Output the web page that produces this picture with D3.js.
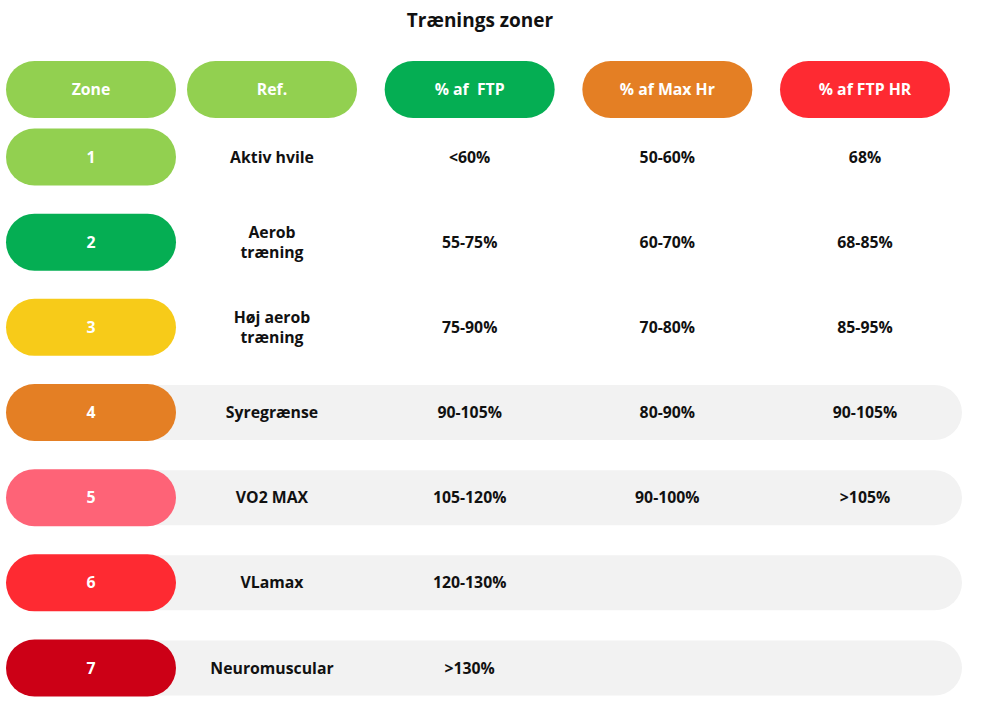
<!DOCTYPE html>
<html>
<head>
<meta charset="utf-8">
<script src="https://cdn.jsdelivr.net/npm/d3@7/dist/d3.min.js"></script>
<style>
  body { margin: 0; background: #fff; }
  svg text { font-family: "Open Sans", "Noto Sans", sans-serif; font-weight: 700; }
</style>
</head>
<body>
<svg id="chart"></svg>
<script>
// data
var title = "Trænings zoner";
var headers = ["Zone", "Ref.", "% af  FTP", "% af Max Hr", "% af FTP HR"];
var headerColors = ["#92d050", "#92d050", "#05ae53", "#e47f24", "#fe2a32"];
var zones = ["1", "2", "3", "4", "5", "6", "7"];
var zoneColors = ["#92d050", "#05ae53", "#f7cb19", "#e47f24", "#fe6377", "#fe2a32", "#cc0016"];
var refs = ["Aktiv hvile", "Aerob\ntræning", "Høj aerob\ntræning", "Syregrænse", "VO2 MAX", "VLamax", "Neuromuscular"];
var pctFtp = ["<60%", "55-75%", "75-90%", "90-105%", "105-120%", "120-130%", ">130%"];
var pctMaxHr = ["50-60%", "60-70%", "70-80%", "80-90%", "90-100%", "", ""];
var pctFtpHr = ["68%", "68-85%", "85-95%", "90-105%", ">105%", "", ""];
var shaded = [false, false, false, true, true, true, true];

var W = 987, H = 721;
var svg = d3.select("#chart").attr("width", W).attr("height", H);

var pillW = 170, pillH = 57;
var fs = 15.8;

// columns Ref..FTP HR share a regular spacing, zone column sits left of them
var xCol = d3.scalePoint().domain(headers.slice(1)).range([272, 865]);
var zoneX = xCol("Ref.") - 181;
var colX = function(i) { return i === 0 ? zoneX : xCol(headers[i]); };

var yRow = d3.scalePoint().domain(zones).range([157, 668]);
var headerY = 89.5;

svg.append("text")
  .attr("x", 480).attr("y", 27)
  .attr("text-anchor", "middle")
  .attr("font-size", 19)
  .attr("fill", "#111")
  .text(title);

// header pills
var hd = svg.append("g").selectAll("g")
  .data(headers)
  .enter().append("g");
hd.append("rect")
  .attr("x", function(d, i) { return colX(i) - pillW / 2; })
  .attr("y", headerY - pillH / 2)
  .attr("width", pillW).attr("height", pillH)
  .attr("rx", pillH / 2)
  .attr("fill", function(d, i) { return headerColors[i]; });
hd.append("text")
  .attr("x", function(d, i) { return colX(i); })
  .attr("y", headerY)
  .attr("dy", "0.35em")
  .attr("text-anchor", "middle")
  .attr("font-size", fs)
  .attr("fill", "#fff")
  .style("white-space", "pre")
  .text(function(d) { return d; });

// rows
var rows = zones.map(function(z, i) {
  return { zone: z, color: zoneColors[i], cells: [refs[i], pctFtp[i], pctMaxHr[i], pctFtpHr[i]], shaded: shaded[i] };
});

var rg = svg.append("g").selectAll("g")
  .data(rows)
  .enter().append("g")
  .attr("transform", function(d) { return "translate(0," + yRow(d.zone) + ")"; });

// grey band behind shaded rows
rg.filter(function(d) { return d.shaded; })
  .append("rect")
  .attr("x", zoneX)
  .attr("y", -pillH / 2 + 1)
  .attr("width", 962 - zoneX)
  .attr("height", pillH - 2)
  .attr("rx", (pillH - 2) / 2)
  .attr("fill", "#f2f2f2");

rg.append("rect")
  .attr("x", zoneX - pillW / 2)
  .attr("y", -pillH / 2)
  .attr("width", pillW).attr("height", pillH)
  .attr("rx", pillH / 2)
  .attr("fill", function(d) { return d.color; });

rg.append("text")
  .attr("x", zoneX)
  .attr("dy", "0.35em")
  .attr("text-anchor", "middle")
  .attr("font-size", fs)
  .attr("fill", "#fff")
  .text(function(d) { return d.zone; });

rg.each(function(d) {
  var g = d3.select(this);
  d.cells.forEach(function(c, j) {
    if (!c) return;
    var lines = c.split("\n");
    var t = g.append("text")
      .attr("x", xCol(headers[j + 1]))
      .attr("text-anchor", "middle")
      .attr("font-size", fs)
      .attr("fill", "#111");
    lines.forEach(function(l, k) {
      t.append("tspan")
        .attr("x", xCol(headers[j + 1]))
        .attr("y", (k - (lines.length - 1) / 2) * 20)
        .attr("dy", "0.35em")
        .text(l);
    });
  });
});
</script>
</body>
</html>
